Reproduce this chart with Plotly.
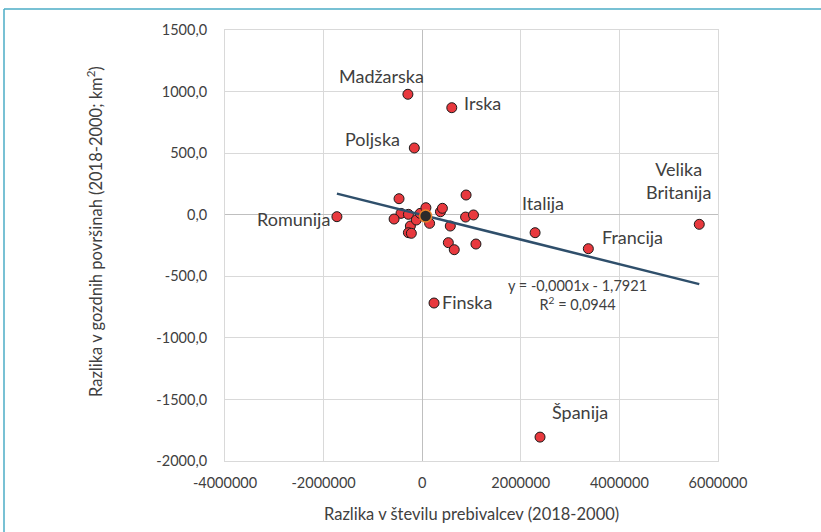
import plotly.graph_objects as go

# Labeled countries
labels = ["Madžarska", "Irska", "Poljska", "Romunija", "Italija", "Francija",
          "Velika<br>Britanija", "Finska", "Španija"]
lab_x = [-290000, 600000, -160000, -1730000, 2290000, 3370000, 5620000, 240000, 2390000]
lab_y = [978, 869, 542, -16, -146, -276, -78, -717, -1806]

# Unlabeled countries
oth_x = [-470000, 890000, -430000, -570000, -280000, -240000, -280000, -220000,
         -120000, -40000, 75000, 150000, 370000, 410000, 570000, 530000, 650000,
         880000, 1040000, 1090000]
oth_y = [130, 160, 11, -35, 3, -92, -146, -151, -43, 11, 57, -70, 24, 52,
         -92, -227, -284, -19, -2, -238]

# Highlighted point
hi_x = [70000]
hi_y = [-11]

# Trendline coefficients (as shown)
slope = -0.0001
intercept = -1.7921

x_ticks = [-4000000, -2000000, 0, 2000000, 4000000, 6000000]
x_ticktext = ["-4000000", "-2000000", "0", "2000000", "4000000", "6000000"]
y_ticks = [-2000, -1500, -1000, -500, 0, 500, 1000, 1500]
y_ticktext = ["-2000,0", "-1500,0", "-1000,0", "-500,0", "0,0", "500,0", "1000,0", "1500,0"]

all_x = lab_x + oth_x + hi_x
tx = [min(all_x), max(all_x)]
ty = [slope * v + intercept for v in tx]

FONT = "Lato"
TXT = "#404040"

fig = go.Figure()
mk = dict(color="#E8393E", size=10, line=dict(color="#1a1a1a", width=1))
fig.add_trace(go.Scatter(x=oth_x + lab_x, y=oth_y + lab_y, mode="markers",
                         marker=mk, showlegend=False, hoverinfo="skip"))
fig.add_trace(go.Scatter(x=tx, y=ty, mode="lines",
                         line=dict(color="#2F4F6B", width=2.5),
                         showlegend=False, hoverinfo="skip"))
fig.add_trace(go.Scatter(x=hi_x, y=hi_y, mode="markers",
                         marker=dict(color="#2b2b2b", size=12,
                                     line=dict(color="#E8832A", width=1.5)),
                         showlegend=False, hoverinfo="skip"))

# label offsets (px) relative to points
shifts = [(-26, 18), (31, 5), (-42, 9), (-43, -2), (8, 30), (44, 12),
          (-21, 44), (33, 1), (40, 25)]
ann = []
for t, x, y, (dx, dy) in zip(labels, lab_x, lab_y, shifts):
    ann.append(dict(x=x, y=y, xref="x", yref="y", text=t, showarrow=False,
                    xshift=dx, yshift=dy, xanchor="center", yanchor="middle",
                    font=dict(family=FONT, size=18, color=TXT), align="center"))

ann.append(dict(x=(577 - 225) / 493, y=(461 - 295) / 431, xref="paper", yref="paper",
                text="y = -0,0001x - 1,7921<br>R<sup>2</sup> = 0,0944", showarrow=False,
                xanchor="center", yanchor="middle",
                font=dict(family=FONT, size=14.5, color=TXT), align="center"))

ann.append(dict(x=0.5, y=(461 - 514) / 431, xref="paper", yref="paper",
                text="Razlika v številu prebivalcev (2018-2000)", showarrow=False,
                font=dict(family=FONT, size=16.5, color=TXT), xanchor="center", yanchor="middle"))
ann.append(dict(x=(95 - 225) / 493, y=(461 - 232) / 431, xref="paper", yref="paper",
                text="Razlika v gozdnih površinah (2018-2000; km<sup>2</sup>)",
                showarrow=False, textangle=-90,
                font=dict(family=FONT, size=16.5, color=TXT), xanchor="center", yanchor="middle"))

frame_col = "#4BACC6"
shapes = [
    dict(type="line", xref="paper", yref="paper",
         x0=(4 - 225) / 493, x1=(830 - 225) / 493,
         y0=(461 - 9) / 431, y1=(461 - 9) / 431,
         line=dict(color=frame_col, width=1.5)),
    dict(type="line", xref="paper", yref="paper",
         x0=(4 - 225) / 493, x1=(4 - 225) / 493,
         y0=(461 - 9) / 431, y1=(461 - 540) / 431,
         line=dict(color=frame_col, width=1.5)),
]

fig.update_layout(
    width=821, height=532, autosize=False,
    margin=dict(l=225, r=103, t=30, b=71),
    paper_bgcolor="white", plot_bgcolor="white",
    annotations=ann, shapes=shapes,
    font=dict(family=FONT, color=TXT),
)
fig.update_xaxes(range=[-4000000, 6000000], tickvals=x_ticks, ticktext=x_ticktext,
                 showgrid=True, gridcolor="#D9D9D9", gridwidth=1,
                 zeroline=True, zerolinecolor="#BFBFBF", zerolinewidth=1,
                 showline=True, mirror=True, linecolor="#D9D9D9", linewidth=1,
                 ticks="outside", ticklen=9, tickcolor="rgba(0,0,0,0)",
                 tickfont=dict(family=FONT, size=14.5, color=TXT))
fig.update_yaxes(range=[-2000, 1500], tickvals=y_ticks, ticktext=y_ticktext,
                 showgrid=True, gridcolor="#D9D9D9", gridwidth=1,
                 zeroline=True, zerolinecolor="#BFBFBF", zerolinewidth=1,
                 showline=True, mirror=True, linecolor="#D9D9D9", linewidth=1,
                 ticks="outside", ticklen=14, tickcolor="rgba(0,0,0,0)",
                 tickfont=dict(family=FONT, size=14.5, color=TXT))

fig.write_html("out.html")
